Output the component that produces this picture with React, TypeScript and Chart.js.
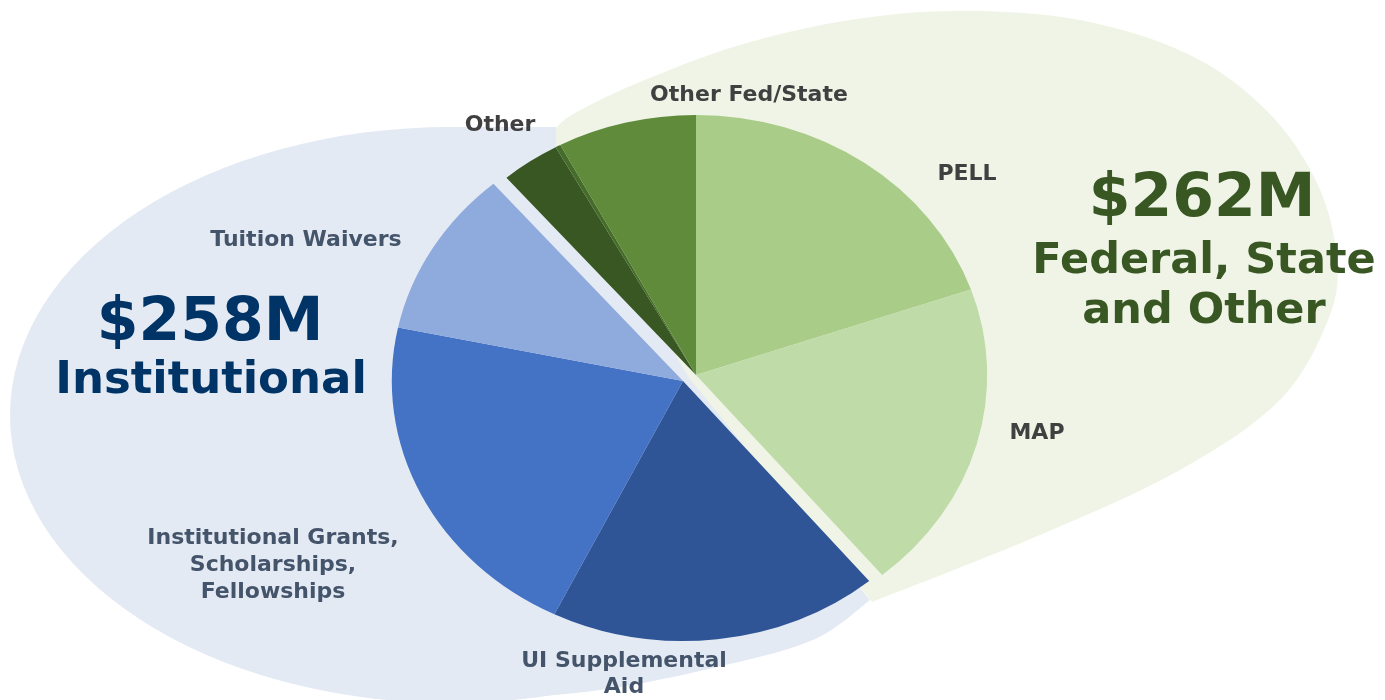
import React, { useEffect, useRef } from 'react';
import { Chart, registerables } from 'chart.js';

Chart.register(...registerables);

// ---- data ----
const categories = [
  'PELL',
  'MAP',
  'UI Supplemental Aid',
  'Institutional Grants, Scholarships, Fellowships',
  'Tuition Waivers',
  'Other',
  'Other (minor)',
  'Other Fed/State',
];
const amounts = [102, 100, 95, 109, 54, 17, 1.5, 40];
const institutionalCategories = [
  'UI Supplemental Aid',
  'Institutional Grants, Scholarships, Fellowships',
  'Tuition Waivers',
];
const groupTotals = [258, 262];
const groupNames = ['Institutional', 'Federal, State', 'and Other'];

// ---- styles ----
const sliceColors = ['#a9cd88', '#bfdba8', '#2f5597', '#4472c4', '#8faadc', '#385723', '#466c2b', '#5f8b3a'];
const BLUE_BG = '#e4eaf4';
const GREEN_BG = '#eff4e6';
const SX = 1.12; // horizontal stretch of the pie
const BLUE_SHIFT = { x: -13, y: 6 };
const FONT = '"DejaVu Sans", Verdana, sans-serif';

type Pt = [number, number];
const blueBandPts: Pt[] = [
  [374, 699], [480, 700], [600, 690], [713, 668], [813, 640], [870, 600],
];
const greenPts: Pt[] = [
  [872, 602], [1040, 535], [1180, 470], [1280, 400], [1328, 320], [1337, 260], [1318, 185],
  [1268, 112], [1190, 55], [1080, 20], [960, 11], [850, 20], [740, 45], [640, 82],
  [575, 113], [556, 128],
];

type Lbl = { lines: string[]; x: number; y: number; color: string; size: number; lh: number };
const GRAY = '#404040';
const SLATE = '#44546a';
const labels: Lbl[] = [
  { lines: ['Other Fed/State'], x: 749, y: 101, color: GRAY, size: 22, lh: 27 },
  { lines: ['Other'], x: 500, y: 131, color: GRAY, size: 22, lh: 27 },
  { lines: ['PELL'], x: 967, y: 180, color: GRAY, size: 22, lh: 27 },
  { lines: ['MAP'], x: 1037, y: 439, color: GRAY, size: 22, lh: 27 },
  { lines: ['Tuition Waivers'], x: 306, y: 246, color: SLATE, size: 22, lh: 27 },
  { lines: ['Institutional Grants,', 'Scholarships,', 'Fellowships'], x: 273, y: 544, color: SLATE, size: 22, lh: 27 },
  { lines: ['UI Supplemental', 'Aid'], x: 624, y: 667, color: SLATE, size: 22, lh: 26 },
  { lines: [`$${groupTotals[0]}M`], x: 210, y: 340, color: '#003366', size: 60, lh: 60 },
  { lines: [groupNames[0]], x: 211, y: 393, color: '#003366', size: 45, lh: 45 },
  { lines: [`$${groupTotals[1]}M`], x: 1202, y: 216, color: '#385723', size: 60, lh: 60 },
  { lines: [groupNames[1], groupNames[2]], x: 1204, y: 273, color: '#385723', size: 43, lh: 50 },
];

function smooth(ctx: CanvasRenderingContext2D, pts: Pt[]) {
  for (let i = 0; i < pts.length - 1; i++) {
    const p0 = pts[i - 1] || pts[i];
    const p1 = pts[i];
    const p2 = pts[i + 1];
    const p3 = pts[i + 2] || p2;
    ctx.bezierCurveTo(
      p1[0] + (p2[0] - p0[0]) / 6, p1[1] + (p2[1] - p0[1]) / 6,
      p2[0] - (p3[0] - p1[0]) / 6, p2[1] - (p3[1] - p1[1]) / 6,
      p2[0], p2[1]
    );
  }
}

function drawBlobs(ctx: CanvasRenderingContext2D) {
  ctx.save();
  ctx.fillStyle = BLUE_BG;
  // main body of the institutional blob
  ctx.beginPath();
  ctx.ellipse(450, 415, 440, 288, 0, 0, Math.PI * 2);
  ctx.fill();
  // flat top towards the pie
  ctx.beginPath();
  ctx.moveTo(440, 127);
  ctx.lineTo(556, 127);
  ctx.lineTo(620, 330);
  ctx.lineTo(440, 330);
  ctx.closePath();
  ctx.fill();
  // band hugging the bottom of the pie
  ctx.beginPath();
  ctx.moveTo(blueBandPts[0][0], blueBandPts[0][1]);
  smooth(ctx, blueBandPts);
  ctx.lineTo(689, 378);
  ctx.lineTo(374, 500);
  ctx.closePath();
  ctx.fill();

  ctx.fillStyle = GREEN_BG;
  ctx.beginPath();
  ctx.moveTo(689, 378);
  ctx.lineTo(greenPts[0][0], greenPts[0][1]);
  smooth(ctx, greenPts);
  ctx.lineTo(556, 150);
  ctx.closePath();
  ctx.fill();
  ctx.restore();
}

function drawTexts(ctx: CanvasRenderingContext2D) {
  ctx.save();
  ctx.textAlign = 'center';
  ctx.textBaseline = 'alphabetic';
  labels.forEach((l) => {
    ctx.font = `bold ${l.size}px ${FONT}`;
    ctx.fillStyle = l.color;
    l.lines.forEach((t, i) => ctx.fillText(t, l.x, l.y + i * l.lh));
  });
  ctx.restore();
}

export default function App() {
  const ref = useRef<HTMLCanvasElement>(null);
  useEffect(() => {
    const canvas = ref.current;
    if (!canvas) return;
    const blueIdx = categories
      .map((c, i) => (institutionalCategories.includes(c) ? i : -1))
      .filter((i) => i >= 0);
    const plugin = {
      id: 'aidDecor',
      afterUpdate(chart: any) {
        const meta = chart.getDatasetMeta(0);
        blueIdx.forEach((i) => {
          const el = meta.data[i];
          el.x += BLUE_SHIFT.x / SX;
          el.y += BLUE_SHIFT.y;
        });
      },
      beforeDatasetsDraw(chart: any) {
        const ctx = chart.ctx as CanvasRenderingContext2D;
        drawBlobs(ctx);
        const el = chart.getDatasetMeta(0).data[0];
        ctx.save();
        ctx.translate(el.x, el.y);
        ctx.scale(SX, 1);
        ctx.translate(-el.x, -el.y);
      },
      afterDatasetsDraw(chart: any) {
        chart.ctx.restore();
      },
      afterDraw(chart: any) {
        drawTexts(chart.ctx);
      },
    };
    const chart = new Chart(canvas, {
      type: 'pie',
      data: {
        labels: categories,
        datasets: [{ data: amounts, backgroundColor: sliceColors, borderWidth: 0 }],
      },
      options: {
        responsive: false,
        animation: false,
        events: [],
        layout: { padding: { top: 115, bottom: 65, left: 7, right: 0 } },
        plugins: { legend: { display: false }, tooltip: { enabled: false } },
      },
      plugins: [plugin],
    });
    return () => chart.destroy();
  }, []);
  return (
    <div style={{ position: 'absolute', left: 0, top: 0, width: 1385, height: 700, background: '#fff' }}>
      <canvas ref={ref} width={1385} height={700} style={{ display: 'block' }} />
    </div>
  );
}
